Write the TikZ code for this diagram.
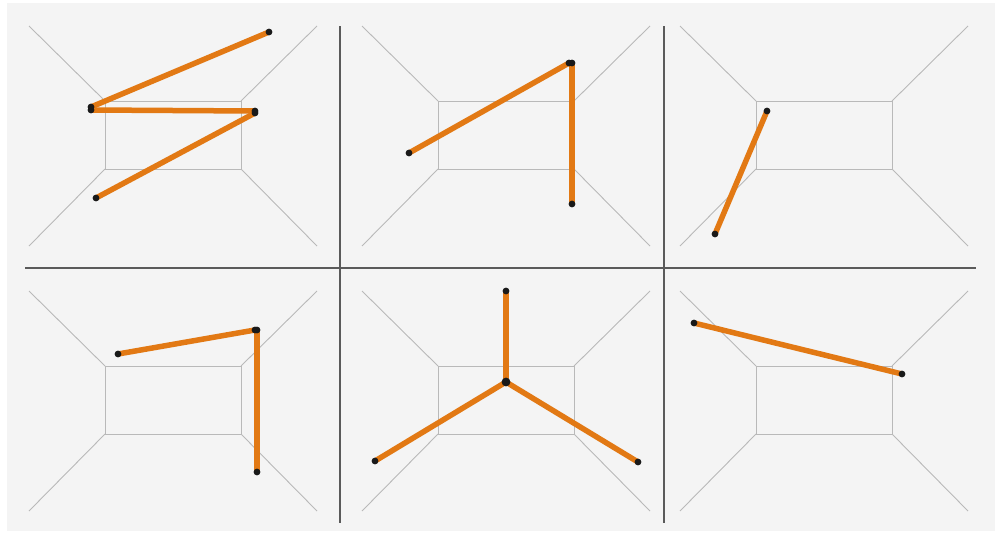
\documentclass[tikz,border=0pt]{standalone}
\definecolor{bgc}{RGB}{244,244,244}
\definecolor{roomc}{RGB}{185,185,185}
\definecolor{divc}{RGB}{90,90,90}
\definecolor{orc}{RGB}{226,121,20}
\definecolor{dotc}{RGB}{25,25,25}
\tikzset{
  roomline/.style={draw=roomc, line width=0.9pt},
  divider/.style={draw=divc, line width=1.1pt},
  stroke/.style={draw=orc, line width=5.5pt},
  dotmark/.style={fill=dotc},
  room/.pic={
    \draw[roomline] (105,101) rectangle (241,169);
    \draw[roomline] (29,26) -- (105,101);
    \draw[roomline] (317,26) -- (241,101);
    \draw[roomline] (29,246) -- (105,169);
    \draw[roomline] (317,246) -- (241,169);
  }
}
\begin{document}
\begin{tikzpicture}[x=1pt,y=-1pt]
\useasboundingbox (0,0) rectangle (1002,533);
\fill[bgc] (7,3) rectangle (995,531);
% rooms
\pic at (0,0) {room};
\pic at (333,0) {room};
\pic at (651,0) {room};
\pic at (0,265) {room};
\pic at (333,265) {room};
\pic at (651,265) {room};
% dividers
\coordinate (h1) at (25,268); \coordinate (h2) at (976,268);
\coordinate (v1a) at (340,26); \coordinate (v1b) at (340,523);
\coordinate (v2a) at (664,26); \coordinate (v2b) at (664,523);
\draw[divider] (h1) -- (h2);
\draw[divider] (v1a) -- (v1b);
\draw[divider] (v2a) -- (v2b);
% panel 1
\coordinate (a1) at (269,32);
\coordinate (a2) at (91,107);
\coordinate (a3) at (91,110);
\coordinate (a4) at (255,111);
\coordinate (a5) at (255,113);
\coordinate (a6) at (96,198);
\draw[stroke] (a1) -- (a2);
\draw[stroke] (a3) -- (a4);
\draw[stroke] (a5) -- (a6);
% panel 2
\coordinate (b1) at (409,153);
\coordinate (b2) at (569,63);
\coordinate (b3) at (572,63);
\coordinate (b4) at (572,204);
\draw[stroke] (b1) -- (b2);
\draw[stroke] (b3) -- (b4);
% panel 3
\coordinate (c1) at (767,111);
\coordinate (c2) at (715,234);
\draw[stroke] (c1) -- (c2);
% panel 4
\coordinate (d1) at (118,354);
\coordinate (d2) at (255,330);
\coordinate (d3) at (257,330);
\coordinate (d4) at (257,472);
\draw[stroke] (d1) -- (d2);
\draw[stroke] (d3) -- (d4);
% panel 5
\coordinate (e1) at (506,291);
\coordinate (e2) at (506,382);
\coordinate (e3) at (375,461);
\coordinate (e4) at (638,462);
\draw[stroke] (e1) -- (e2);
\draw[stroke] (e2) -- (e3);
\draw[stroke] (e2) -- (e4);
% panel 6
\coordinate (f1) at (694,323);
\coordinate (f2) at (902,374);
\draw[stroke] (f1) -- (f2);
% dots
\foreach \p in {a1,a2,a3,a4,a5,a6,b1,b2,b3,b4,c1,c2,d1,d2,d3,d4,e1,e3,e4,f1,f2}
  \fill[dotmark] (\p) circle (3.4pt);
\fill[dotmark] (e2) circle (4.4pt);
\end{tikzpicture}
\end{document}
